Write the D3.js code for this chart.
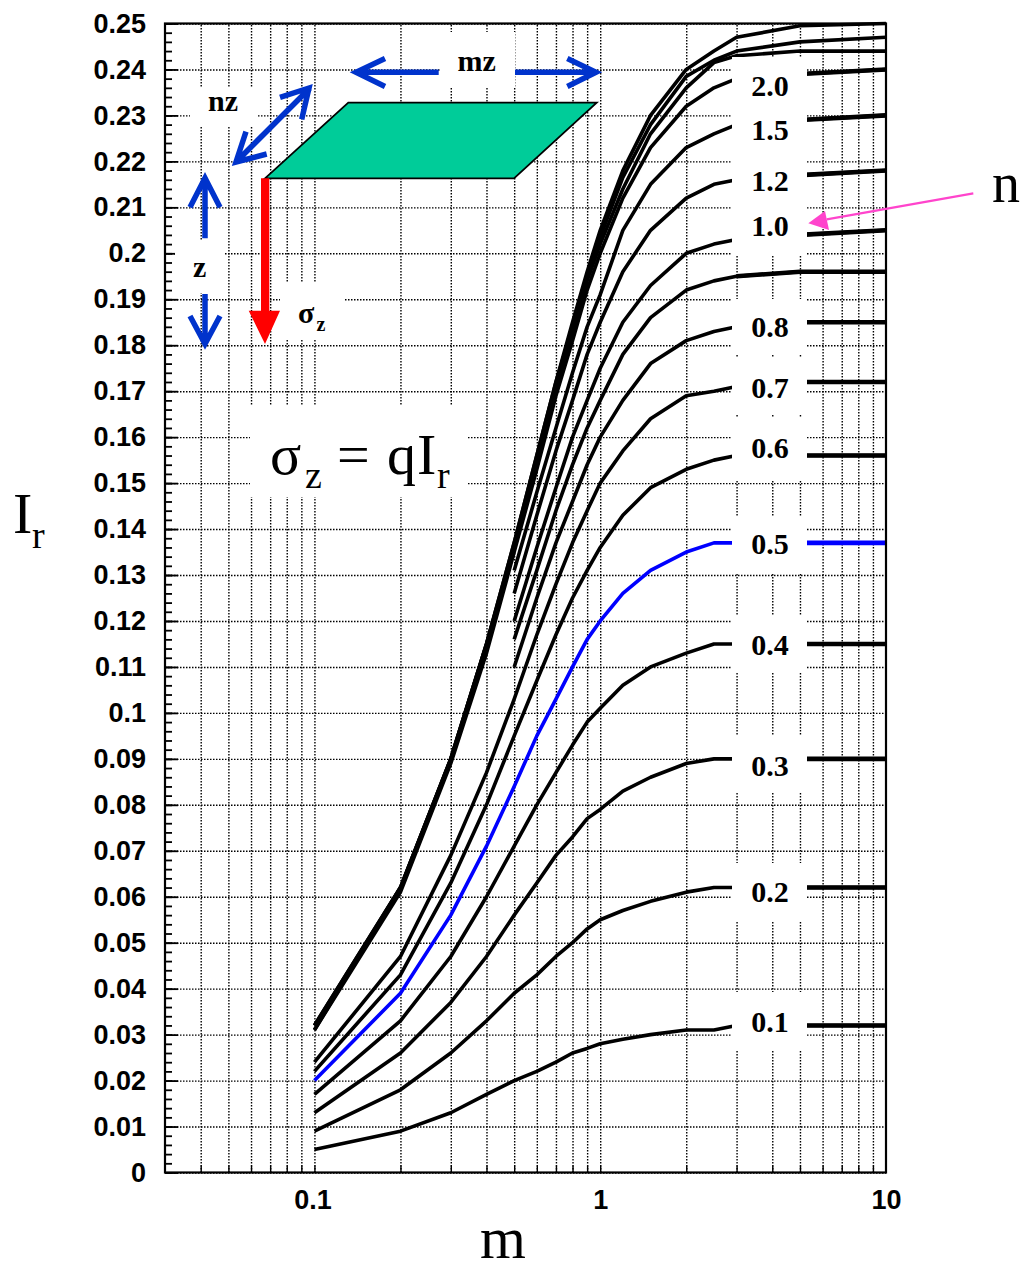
<!DOCTYPE html>
<html>
<head>
<meta charset="utf-8">
<script src="https://cdnjs.cloudflare.com/ajax/libs/d3/7.8.5/d3.min.js"></script>
<style>
html, body { margin: 0; padding: 0; background: #fff; overflow: hidden; }
svg { display: block; }
.num text { font-family: "Liberation Sans", Arial, sans-serif; font-weight: bold; font-size: 27px; fill: #000; }
.serif { font-family: "Liberation Serif", "Times New Roman", serif; fill: #000; }
.grid line { stroke: #000; stroke-width: 1.4; stroke-dasharray: 1.5 1.5; }
.grid path, .ticks path { display: none; }
.ticks line { stroke: #000; }
.curve { fill: none; stroke: #000; stroke-width: 3.6; stroke-linejoin: round; }
</style>
</head>
<body>
<script>
// m values shared by all the curves
var mValues = [0.1, 0.2, 0.3, 0.4, 0.5, 0.6, 0.7, 0.8, 0.9, 1, 1.2, 1.5, 2, 2.5, 3, 5, 10];

// influence values, one list per n (null = curve not drawn there)
var n01 = [.005, .009, .013, .017, .020, .022, .024, .026, .027, .028, .029, .030, .031, .031, .032, .032, .032];
var n02 = [.009, .018, .026, .033, .039, .043, .047, .050, .053, .055, .057, .059, .061, .062, .062, .062, .062];
var n03 = [.013, .026, .037, .047, .056, .063, .069, .073, .077, .079, .083, .086, .089, .090, .090, .090, .090];
var n04 = [.017, .033, .047, .060, .071, .080, .087, .093, .098, .101, .106, .110, .113, .115, .115, .115, .115];
var n05 = [.020, .039, .056, .071, .084, .095, .103, .110, .116, .120, .126, .131, .135, .137, .137, .137, .137];
var n06 = [.022, .043, .063, .080, .095, .107, .117, .125, .131, .136, .143, .149, .153, .155, .156, .156, .156];
var n07 = [.024, .047, .069, .087, .103, .117, .128, .137, .144, .150, .157, .164, .169, .170, .171, .172, .172];
var n08 = [null, null, null, null, .110, .125, .137, .146, .154, .160, .168, .176, .181, .183, .184, .185, .185];
var n09 = [null, null, null, null, .116, .131, .144, .154, .162, .168, .178, .186, .192, .194, .195, .196, .196];
var n10 = [null, null, null, null, .120, .136, .149, .160, .168, .175, .185, .193, .200, .202, .203, .204, .205];
var n12 = [null, null, null, null, .126, .143, .157, .168, .178, .185, .196, .205, .212, .215, .216, .217, .218];
var n15 = [null, null, null, null, .131, .148, .162, .174, .184, .191, .205, .215, .223, .226, .228, .229, .230];
var n20 = [.031, .061, .089, .113, .135, .153, .169, .181, .192, .200, .212, .223, .232, .236, .238, .239, .240];
var n25 = [.031, .062, .090, .115, .136, .155, .171, .183, .194, .202, .214, .226, .236, .2415, .243, .244, .244];
var n30 = [.032, .062, .090, .115, .137, .156, .172, .184, .195, .2035, .2165, .228, .2385, .242, .244, .246, .247];
var n50 = [.032, .062, .090, .115, .137, .156, .172, .185, .196, .205, .218, .230, .240, .244, .247, .2495, .250];

var curves = [n01, n02, n03, n04, n06, n07, n08, n09, n10, n12, n15, n20, n25, n30, n50];

var nLabels = ["2.0", "1.5", "1.2", "1.0", "0.8", "0.7", "0.6", "0.5", "0.4", "0.3", "0.2", "0.1"];
var nLabelY = [95.5, 140, 191, 236, 336.5, 397.5, 457.5, 554, 654.5, 775.5, 901.5, 1032];

var xMajor = [0.1, 1, 10];
var xGrid = [0.04, 0.05, 0.06, 0.07, 0.08, 0.09, 0.1, 0.2, 0.3, 0.4, 0.5, 0.6, 0.7, 0.8, 0.9, 1, 2, 3, 4, 5, 6, 7, 8, 9];
var yMajor = d3.range(0, 26).map(d => d / 100);
var yMinor = d3.range(0, 126).map(d => d * 0.002);

var w = 1023, h = 1261;
var svg = d3.select("body").append("svg").attr("width", w).attr("height", h);

var x = d3.scaleLog().domain([0.03, 10]).range([165, 886]);
var y = d3.scaleLinear().domain([0, 0.25]).range([1172.5, 23.5]);

// grid
svg.append("g").attr("class", "grid")
	.attr("transform", "translate(0,1172.5)")
	.call(d3.axisBottom(x).tickValues(xGrid).tickSize(-1149).tickFormat(""));
svg.append("g").attr("class", "grid")
	.attr("transform", "translate(165,0)")
	.call(d3.axisLeft(y).tickValues(yMajor).tickSize(-721).tickFormat(""));

// ticks
var xTicks = svg.append("g").attr("class", "ticks")
	.attr("transform", "translate(0,1172.5)")
	.call(d3.axisBottom(x).tickValues(xGrid).tickSize(-7).tickFormat(""));
xTicks.selectAll("line").attr("stroke-width", 1.4);
var yMinorTicks = svg.append("g").attr("class", "ticks")
	.attr("transform", "translate(165,0)")
	.call(d3.axisLeft(y).tickValues(yMinor).tickSize(-7).tickFormat(""));
yMinorTicks.selectAll("line").attr("stroke-width", 1.8);
var yMajorTicks = svg.append("g").attr("class", "ticks")
	.attr("transform", "translate(165,0)")
	.call(d3.axisLeft(y).tickValues(yMajor).tickSize(-13).tickFormat(""));
yMajorTicks.selectAll("line").attr("stroke-width", 1.8);

// curves
var line = d3.line()
	.defined(d => d[1] !== null)
	.x(d => x(d[0]))
	.y(d => y(d[1]));
var toPoints = vals => vals.map((v, i) => [mValues[i], v]);

svg.selectAll(".curve.k").data(curves).enter().append("path")
	.attr("class", "curve k")
	.attr("d", d => line(toPoints(d)));
svg.append("path").attr("class", "curve")
	.attr("d", line(toPoints(n05)))
	.style("stroke", "#0000ff");

// the flat tails on the right are a bit heavier
svg.selectAll(".tail").data([n01, n02, n03, n04, n05, n06, n07, n08, n09, n10, n12, n15, n20]).enter().append("path")
	.attr("class", "curve tail")
	.attr("d", d => line(toPoints(d).slice(-3)))
	.style("stroke", d => d === n05 ? "#0000ff" : "#000")
	.style("stroke-width", 4.6);

// white boxes behind the annotations: x, y, width, height
var masks = [
	[732, 57, 75, 198], [732, 299, 75, 56], [732, 358, 75, 56], [732, 417, 75, 63],
	[732, 517, 75, 56], [732, 616, 75, 56], [732, 736, 75, 56], [732, 863, 75, 58], [732, 992, 75, 58],
	[440, 32, 75, 56], [190, 88, 68, 39], [175, 240, 50, 53], [280, 283, 65, 57], [250, 405, 218, 92]
];
svg.selectAll(".mask").data(masks).enter().append("rect")
	.attr("class", "mask")
	.attr("x", d => d[0]).attr("y", d => d[1])
	.attr("width", d => d[2]).attr("height", d => d[3])
	.attr("fill", "#fff");

// frame
svg.append("rect")
	.attr("x", x.range()[0]).attr("y", y.range()[1])
	.attr("width", x.range()[1] - x.range()[0]).attr("height", y.range()[0] - y.range()[1])
	.attr("fill", "none").attr("stroke", "#000").attr("stroke-width", 2.2);

// tick labels
var yLabels = svg.append("g").attr("class", "num")
	.attr("transform", "translate(165,0)")
	.call(d3.axisLeft(y).tickValues(yMajor).tickSize(0).tickPadding(19).tickFormat(d => String(+d.toFixed(2))));
yLabels.select("path").remove();
yLabels.selectAll("line").remove();
var xLabels = svg.append("g").attr("class", "num")
	.attr("transform", "translate(0,1172.5)")
	.call(d3.axisBottom(x).tickValues(xMajor).tickSize(0).tickPadding(17).tickFormat(d => String(d)));
xLabels.select("path").remove();
xLabels.selectAll("line").remove();
xLabels.selectAll("text").attr("dx", d => d === 0.1 ? -2 : 0);

// n labels
svg.selectAll(".nlab").data(nLabels).enter().append("text")
	.attr("class", "nlab serif")
	.attr("x", 770).attr("y", (d, i) => nLabelY[i])
	.attr("text-anchor", "middle")
	.style("font-weight", "bold").style("font-size", "30px")
	.text(d => d);

// sketch of the loaded area
svg.append("path")
	.attr("d", "M265,178.3L348.3,102.7H596.7L514,178.3Z")
	.attr("fill", "#00cc99").attr("stroke", "#000").attr("stroke-width", 1.8);
svg.append("path")
	.attr("d", "M261,178.3H269.3V310.7H280L265,344L248.7,310.7H261Z")
	.attr("fill", "#ff0000");
svg.append("path")
	.attr("fill", "none").attr("stroke", "#0033cc").attr("stroke-width", 5.5)
	.attr("d", "M438.7,72.3H355M385,58.5L356,72.3L385,86.5"
		+ "M515,72.3H597M567.3,58.5L596,72.3L567.3,86.5"
		+ "M236,162L310,88M280,97.3L309,88L301.7,119.3"
		+ "M246,131.7L236,162L266.7,154"
		+ "M205,238.3V180M190,207.3L205,178L220,207.3"
		+ "M205,294V343M190,316L205,344L220,316");
svg.append("path")
	.attr("d", "M973.3,193.3L826.7,219.3")
	.attr("fill", "none").attr("stroke", "#ff44cc").attr("stroke-width", 2.2);
svg.append("path")
	.attr("d", "M808.3,223.3L825,211L829,230Z")
	.attr("fill", "#ff44cc");

// texts: label, x, baseline, size, weight
var notes = [
	["mz", 457.5, 71, 30, "bold"], ["nz", 208, 111, 30, "bold"], ["z", 193, 277, 30, "bold"],
	["σ", 298, 323, 30, "bold"], ["z", 316.5, 331, 20, "bold"],
	["σ", 270, 474, 58, "normal"], ["z", 305, 488, 38, "normal"], ["=", 337, 474, 58, "normal"],
	["q", 387, 474, 58, "normal"], ["I", 417, 474, 58, "normal"], ["r", 437, 488, 38, "normal"],
	["I", 13, 533, 58, "normal"], ["r", 32, 548, 38, "normal"],
	["m", 480, 1258, 59, "normal"], ["n", 992, 201.5, 56, "normal"]
];
svg.selectAll(".note").data(notes).enter().append("text")
	.attr("class", "note serif")
	.attr("x", d => d[1]).attr("y", d => d[2])
	.style("font-size", d => d[3] + "px").style("font-weight", d => d[4])
	.text(d => d[0]);
</script>
</body>
</html>
